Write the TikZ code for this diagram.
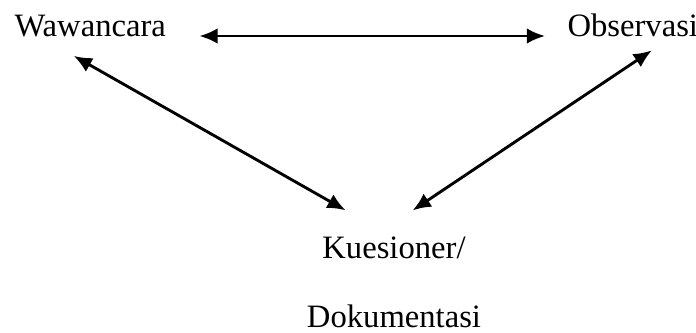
\documentclass[tikz,border=0pt]{standalone}
\usepackage{fontspec}
\setmainfont{Liberation Serif}
\usetikzlibrary{arrows.meta}

\begin{document}
\begin{tikzpicture}[x=0.383pt, y=-0.383pt,
        every node/.style={font=\fontsize{12.5pt}{15pt}\selectfont, inner sep=0pt},
        twoway/.style={line width=1.1pt, >={Latex[length=7pt,width=6pt]}, <->}]
        \useasboundingbox (0,0) rectangle (696,332);

        % Texts
        \node[anchor=base west] (waw) at (14,36) {Wawancara};
        \node[anchor=base west] (obs) at (567,36) {Observasi};
        \node[anchor=north, align=center] (kues) at (394,236) {Kuesioner/\\[11.5pt]Dokumentasi};

        % Arrows
        \draw[twoway, shorten <=12.6pt, shorten >=8.4pt] (waw.base east) -- (obs.base west);
        \draw[twoway, shorten <=14.6pt, shorten >=19.9pt] (waw.193) -- (kues.94);
        \draw[twoway, shorten <=9.3pt, shorten >=17.6pt] (obs.343) -- (kues.113);
    \end{tikzpicture}
\end{document}
